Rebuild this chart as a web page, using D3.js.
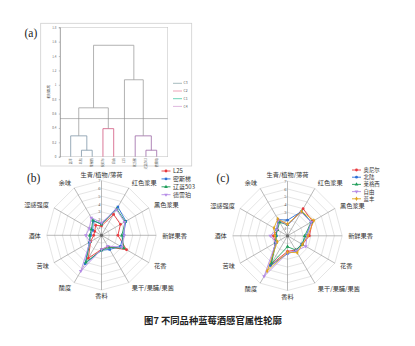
<!DOCTYPE html>
<html><head><meta charset="utf-8">
<script src="https://cdn.jsdelivr.net/npm/d3@7"></script>
<style>body{margin:0;background:#fff}svg{display:block}</style>
</head><body>
<svg id="c" width="415" height="346"></svg>
<script>
// ---- Data ----
const attributes = ["生青/植物/薄荷","红色浆果","黑色浆果","新鲜果香","花香","果干/果脯/果酱","香料","酸度","苦味","酒体","涩感强度","余味"];
const radarTicks = [1,2,3,4,5,6,7];

const seriesB = ["L25","密斯梯","辽蓝503","德雷珀"];
const valuesL25   = [1.2,3.1,2.8,2.1,3.7,1.7,1.8,3.4,1.6,1.0,1.0,1.5];
const valuesMisiti = [1.5,4.2,3.6,2.8,2.8,2.1,1.9,4.2,1.8,1.4,1.3,2.1];
const valuesLiaolan503 = [1.4,3.9,3.5,2.6,3.3,1.8,1.9,4.0,1.7,1.5,1.5,2.2];
const valuesDeleipo = [1.6,3.8,3.4,2.9,3.0,1.6,1.8,5.3,1.7,2.0,1.8,2.6];

const seriesC = ["奥尼尔","北陆","莱格西","自由","蓝丰"];
const valuesAonier = [1.4,4.0,3.7,2.8,2.2,2.1,2.0,4.3,1.8,1.8,1.5,2.3];
const valuesBeilu  = [2.0,3.6,3.5,2.4,2.1,2.2,2.3,4.4,1.8,1.4,1.6,2.4];
const valuesLaigexi = [1.4,3.6,3.5,2.2,2.2,2.1,1.4,4.1,1.7,1.5,1.5,2.0];
const valuesZiyou  = [1.4,3.5,3.5,2.5,2.7,2.2,2.2,6.0,1.7,2.2,1.6,2.3];
const valuesLanfeng = [1.5,3.6,3.9,2.6,2.2,2.5,2.1,5.2,1.5,1.6,2.0,2.5];

const dendroLeaves = ["蓝丰","北陆","莱格西","奥尼尔","自由","L25","密斯梯","辽蓝503","德雷珀"];
// merges: [nodeA, nodeB, height]; new node ids continue after leaves
const dendroMerges = [[1,2,0.09],[0,9,0.29],[3,4,0.39],[10,11,0.68],[7,8,0.09],[6,13,0.29],[5,14,1.07],[12,15,1.55]];
const dendroCut = 0.53;
const dendroTicks = [0,0.2,0.4,0.6,0.8,1,1.2,1.4,1.6,1.8];
const dendroLegend = ["C3","C2","C1","C4"];

// ---- Styles ----
const colB = ["#e8383d","#2b6fd6","#1f9e5a","#b58be6"];
const colC = ["#e8383d","#2b6fd6","#1f9e5a","#b58be6","#e0a51e"];
const symB = [d3.symbolCircle,d3.symbolSquare,d3.symbolTriangle,"down"];
const symC = [d3.symbolCircle,d3.symbolCircle,d3.symbolTriangle,"down",d3.symbolDiamond];
const mergeCol = ["#7f97a8","#7f97a8","#d2557e","#a0a0a0","#9c68a6","#9c68a6","#a0a0a0","#a0a0a0"];
const legendCol = ["#8fa9ad","#e98aa6","#48c7a4","#d6a6d6"];

const svg = d3.select("#c");
const serif = "'Liberation Serif','DejaVu Serif',serif";
const cjk = "'Noto Sans CJK SC',sans-serif";

// ---- Panel (a): dendrogram ----
svg.append("rect").attr("x",40.7).attr("y",23.3).attr("width",151).attr("height",142.7)
  .attr("fill","none").attr("stroke","#cfcfcf").attr("stroke-width",0.8);
const dx = d3.scalePoint().domain(d3.range(dendroLeaves.length)).range([70.7,156.7]);
const dy = d3.scaleLinear().domain([0,1.8]).range([156.7,27.3]);
const ga = svg.append("g");
ga.append("rect").attr("x",60).attr("y",dy(1.8)).attr("width",107.7).attr("height",dy(0)-dy(1.8))
  .attr("fill","none").attr("stroke","#c8c8c8").attr("stroke-width",0.6);
const yAx = ga.append("g").attr("transform","translate(60,0)")
  .call(d3.axisLeft(dy).tickValues(dendroTicks).tickSize(1.2).tickFormat(d3.format("")));
yAx.select(".domain").attr("stroke","#888").attr("stroke-width",0.6);
yAx.selectAll(".tick line").attr("stroke","#888").attr("stroke-width",0.5);
yAx.selectAll("text").attr("font-size",3).attr("fill","#666").attr("x",-3.5).attr("font-family",cjk);
ga.append("text").attr("transform","translate(49.5,92) rotate(-90)").attr("text-anchor","middle")
  .attr("font-size",3.4).attr("font-family",cjk).attr("fill","#444").text("相对距离");
// nodes
const nodes = dendroLeaves.map((n,i)=>({x:dx(i),h:0}));
dendroMerges.forEach((m,k)=>{
  const a = nodes[m[0]], b = nodes[m[1]], h = m[2];
  const c = mergeCol[k];
  const path = d3.path();
  path.moveTo(a.x, dy(a.h)); path.lineTo(a.x, dy(h)); path.lineTo(b.x, dy(h)); path.lineTo(b.x, dy(b.h));
  ga.append("path").attr("d",path.toString()).attr("fill","none").attr("stroke",c).attr("stroke-width",0.8);
  nodes.push({x:(a.x+b.x)/2,h:h});
});
ga.append("line").attr("x1",60).attr("x2",167.7).attr("y1",dy(dendroCut)).attr("y2",dy(dendroCut))
  .attr("stroke","#8a8a8a").attr("stroke-width",0.6);
dendroLeaves.forEach((n,i)=>{
  ga.append("text").attr("transform",`translate(${dx(i)+1},${dy(0)+1.5}) rotate(-90)`)
    .attr("text-anchor","end").attr("font-size",3).attr("font-family",cjk).attr("fill","#555").text(n);
});
dendroLegend.forEach((n,i)=>{
  const y = 83.3 + i*7.7;
  ga.append("line").attr("x1",173).attr("x2",182).attr("y1",y).attr("y2",y).attr("stroke",legendCol[i]).attr("stroke-width",0.8);
  ga.append("text").attr("x",183.5).attr("y",y+1.1).attr("font-size",3.4).attr("font-family",cjk).attr("fill","#555").text(n);
});
svg.append("text").attr("x",24.5).attr("y",36.5).attr("font-size",11.5).attr("font-family",serif).attr("fill","#222").text("(a)");

// ---- Radar ----
function radar(cx, cy, names, data, cols, syms, legX, legY, legStep, legFont, label, labX) {
  const R = 54.7;
  const r = d3.scaleLinear().domain([0,7]).range([0,R]);
  const n = attributes.length;
  const ang = d3.scaleLinear().domain([0,n]).range([0,2*Math.PI]);
  const g = svg.append("g").attr("transform",`translate(${cx},${cy})`);
  radarTicks.forEach(t=>{
    g.append("path").attr("d", d3.lineRadial().angle((d,i)=>ang(i)).radius(r(t)).curve(d3.curveLinearClosed)(attributes))
      .attr("fill","none").attr("stroke","#d4d4d4").attr("stroke-width",0.6);
  });
  attributes.forEach((a,i)=>{
    const th = ang(i);
    g.append("line").attr("x1",0).attr("y1",0).attr("x2",r(7)*Math.sin(th)).attr("y2",-r(7)*Math.cos(th))
      .attr("stroke","#8c8c8c").attr("stroke-width",0.6);
    const lr = r(7) + 6;
    const lx = lr*Math.sin(th), ly = -lr*Math.cos(th);
    const s = Math.sin(th);
    g.append("text").attr("x",lx).attr("y",ly+2.2)
      .attr("text-anchor", Math.abs(s)<0.1 ? "middle" : (s>0 ? "start":"end"))
      .attr("font-size",6.2).attr("font-family",cjk).attr("fill","#333").text(a);
  });
  radarTicks.forEach(t=>{
    g.append("text").attr("x",-1).attr("y",-r(t)+1.6).attr("text-anchor","end")
      .attr("font-size",4.4).attr("font-family",serif).attr("fill","#555").text(t);
  });
  data.forEach((vals,k)=>{
    g.append("path").attr("d", d3.lineRadial().angle((d,i)=>ang(i)).radius(d=>r(d)).curve(d3.curveLinearClosed)(vals))
      .attr("fill","none").attr("stroke",cols[k]).attr("stroke-width",0.9);
  });
  data.forEach((vals,k)=>{
    const down = syms[k]==="down";
    const sy = d3.symbol().type(down ? d3.symbolTriangle : syms[k]).size(6);
    vals.forEach((v,i)=>{
      const th = ang(i);
      g.append("path").attr("d",sy()).attr("fill",cols[k])
        .attr("transform",`translate(${r(v)*Math.sin(th)},${-r(v)*Math.cos(th)})${down?" rotate(180)":""}`);
    });
  });
  g.append("circle").attr("r",1.6).attr("fill","#666");
  names.forEach((nm,k)=>{
    const y = legY + k*legStep;
    svg.append("line").attr("x1",legX).attr("x2",legX+9).attr("y1",y).attr("y2",y).attr("stroke",cols[k]).attr("stroke-width",0.9);
    const down = syms[k]==="down";
    svg.append("path").attr("d",d3.symbol().type(down?d3.symbolTriangle:syms[k]).size(6)())
      .attr("fill",cols[k]).attr("transform",`translate(${legX+4.5},${y})${down?" rotate(180)":""}`);
    svg.append("text").attr("x",legX+11.5).attr("y",y+legFont*0.36).attr("font-size",legFont).attr("font-family",cjk).attr("fill","#333").text(nm);
  });
  svg.append("text").attr("x",labX).attr("y",182).attr("font-size",11.5).attr("font-family",serif).attr("fill","#222").text(label);
}
radar(101.5,235.3,seriesB,[valuesL25,valuesMisiti,valuesLiaolan503,valuesDeleipo],colB,symB,161.5,171,7.9,6,"(b)",27);
radar(287.5,235.8,seriesC,[valuesAonier,valuesBeilu,valuesLaigexi,valuesZiyou,valuesLanfeng],colC,symC,352,170,7.2,5.4,"(c)",216.5);

// ---- Caption ----
svg.append("text").attr("x",213).attr("y",324).attr("text-anchor","middle").attr("font-size",9.3)
  .attr("font-family",cjk).attr("font-weight","bold").attr("fill","#222").text("图7  不同品种蓝莓酒感官属性轮廓");
</script>
</body></html>
